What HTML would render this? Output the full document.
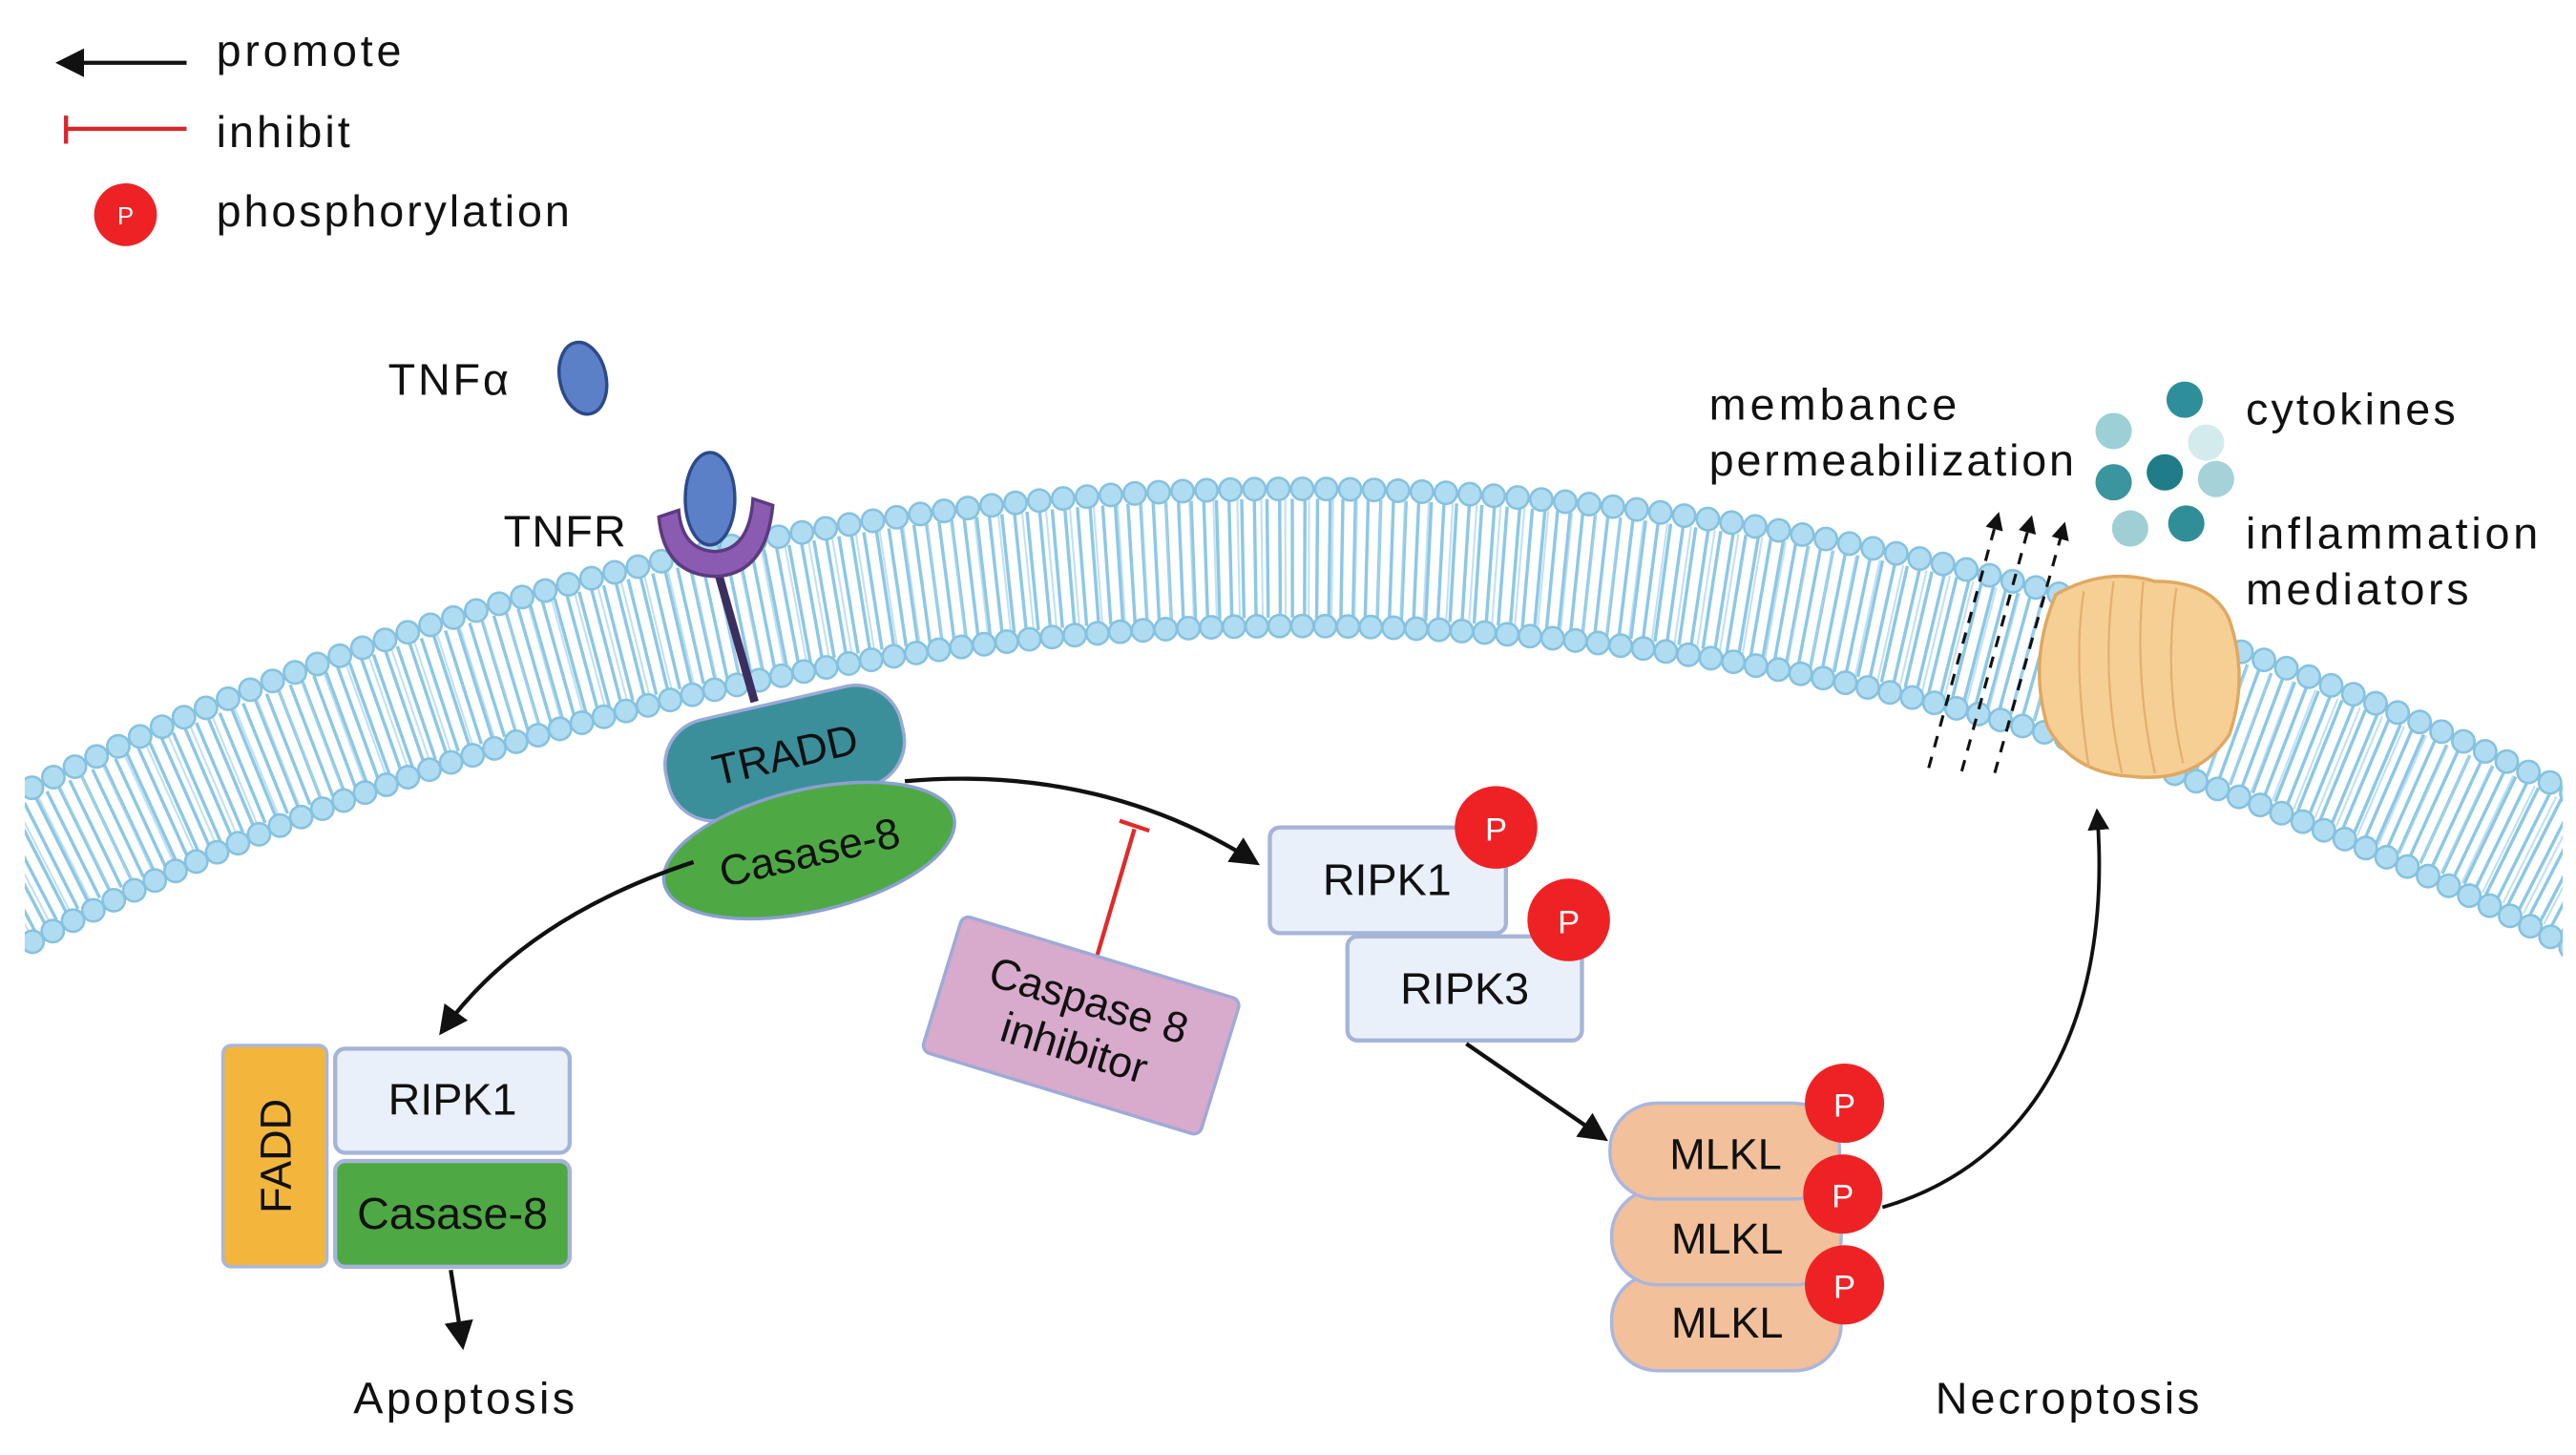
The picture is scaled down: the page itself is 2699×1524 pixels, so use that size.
<!DOCTYPE html>
<html><head><meta charset="utf-8"><style>
html,body{margin:0;padding:0;background:#fff;width:2699px;height:1524px;overflow:hidden}
svg{display:block}
text{font-family:"Liberation Sans",sans-serif;fill:#111}
</style></head><body>
<svg width="2699" height="1524" viewBox="0 0 1560 881" preserveAspectRatio="none" xmlns="http://www.w3.org/2000/svg">
<defs>
<clipPath id="mc"><rect x="15" y="0" width="1537" height="881"/></clipPath>
<marker id="ah" viewBox="0 0 10 10" refX="8" refY="5" markerWidth="7" markerHeight="7" orient="auto-start-reverse"><path d="M0,0 L10,5 L0,10 z" fill="#111"/></marker>
<marker id="ahs" viewBox="0 0 10 10" refX="8" refY="5" markerWidth="6" markerHeight="6" orient="auto"><path d="M0,0 L10,5 L0,10 z" fill="#111"/></marker>
</defs>
<rect width="1560" height="881" fill="#fff"/>

<!-- legend -->
<line x1="113" y1="38" x2="37" y2="38" stroke="#111" stroke-width="2.5" marker-end="url(#ah)"/>
<text x="131" y="40" font-size="27" textLength="112">promote</text>
<line x1="40" y1="78" x2="113" y2="78" stroke="#d9262b" stroke-width="2.5"/>
<line x1="40" y1="70" x2="40" y2="87" stroke="#d9262b" stroke-width="2.5"/>
<text x="131" y="89" font-size="27" textLength="81">inhibit</text>
<circle cx="76" cy="130" r="19" fill="#ee2224"/>
<text x="76" y="136" font-size="15" text-anchor="middle" style="fill:#fff">P</text>
<text x="131" y="137" font-size="27" textLength="214">phosphorylation</text>

<!-- membrane -->
<g clip-path="url(#mc)">
<path d="M-49,561.5 A1668,1668 0 0 1 1619,561.5" fill="none" stroke="#8cc8e6" stroke-width="72" stroke-dasharray="2 5.5"/>
<path d="M-49,561.5 A1668,1668 0 0 1 1619,561.5" fill="none" stroke="#a5d4ec" stroke-width="72" stroke-dasharray="1.2 13" opacity="0.7"/>
<path d="M-70,525.1 A1710,1710 0 0 1 1640,525.1" fill="none" stroke="#86c2e0" stroke-width="15" stroke-linecap="round" stroke-dasharray="0 14.5"/>
<path d="M-70,525.1 A1710,1710 0 0 1 1640,525.1" fill="none" stroke="#b0dcf1" stroke-width="12" stroke-linecap="round" stroke-dasharray="0 14.5"/>
<path d="M-28.5,597 A1627,1627 0 0 1 1598.5,597" fill="none" stroke="#86c2e0" stroke-width="15" stroke-linecap="round" stroke-dasharray="0 13.8"/>
<path d="M-28.5,597 A1627,1627 0 0 1 1598.5,597" fill="none" stroke="#b0dcf1" stroke-width="12" stroke-linecap="round" stroke-dasharray="0 13.8"/>
</g>

<!-- TNF -->
<text x="235" y="239" font-size="27" textLength="73">TNFα</text>
<ellipse cx="353" cy="229" rx="14" ry="22" transform="rotate(-12 353 229)" fill="#5b80c8" stroke="#2c4a8a" stroke-width="2"/>
<text x="305" y="331" font-size="27" textLength="74">TNFR</text>
<line x1="433" y1="340" x2="457" y2="425" stroke="#3a2f5e" stroke-width="5"/>
<path d="M399,313 Q402,348 433,349 Q464,348 468,306 L456,302 Q454,333 433,334 Q413,333 411,309 Z" fill="#8a5bb0" stroke="#5b3a80" stroke-width="2"/>
<ellipse cx="430" cy="302" rx="15" ry="28" fill="#5b80c8" stroke="#2c4a8a" stroke-width="2"/>

<!-- TRADD / Casase-8 -->
<g transform="rotate(-13 475 455)">
<rect x="402" y="425" width="146" height="62" rx="28" fill="#3b8f9b" stroke="#9aaad6" stroke-width="2"/>
<text x="475" y="466" font-size="26" text-anchor="middle">TRADD</text>
</g>
<g transform="rotate(-13 490 515)">
<ellipse cx="490" cy="515" rx="90" ry="37" fill="#4ea944" stroke="#8aa0d0" stroke-width="2"/>
<text x="490" y="525" font-size="26" text-anchor="middle">Casase-8</text>
</g>

<!-- arrows -->
<path d="M548,473 C640,465 710,490 760,522" fill="none" stroke="#111" stroke-width="2.5" marker-end="url(#ah)"/>
<path d="M420,522 C350,545 300,580 268,624" fill="none" stroke="#111" stroke-width="2.5" marker-end="url(#ah)"/>
<line x1="664" y1="580" x2="687" y2="502" stroke="#e02a2a" stroke-width="2.5"/>
<line x1="678" y1="497" x2="696" y2="503" stroke="#e02a2a" stroke-width="2.5"/>

<!-- Caspase 8 inhibitor -->
<g transform="rotate(17 655 620)">
<rect x="567" y="578" width="176" height="86" rx="5" fill="#d8aacb" stroke="#9eaad8" stroke-width="2"/>
<text x="655" y="614" font-size="26" text-anchor="middle">Caspase 8</text>
<text x="655" y="644" font-size="26" text-anchor="middle">inhibitor</text>
</g>

<!-- RIPK1 / RIPK3 -->
<rect x="769" y="501" width="143" height="64" rx="6" fill="#eaf0fa" stroke="#a6b4d8" stroke-width="2.5"/>
<text x="840" y="542" font-size="27" text-anchor="middle">RIPK1</text>
<circle cx="906" cy="501" r="25" fill="#ee2224"/>
<text x="906" y="509" font-size="20" text-anchor="middle" style="fill:#fff">P</text>
<rect x="816" y="567" width="142" height="63" rx="6" fill="#eaf0fa" stroke="#a6b4d8" stroke-width="2.5"/>
<text x="887" y="608" font-size="27" text-anchor="middle">RIPK3</text>
<circle cx="950" cy="557" r="25" fill="#ee2224"/>
<text x="950" y="565" font-size="20" text-anchor="middle" style="fill:#fff">P</text>
<line x1="888" y1="632" x2="971" y2="689" stroke="#111" stroke-width="2.5" marker-end="url(#ah)"/>

<!-- MLKL -->
<rect x="976" y="771" width="139" height="59" rx="28" fill="#f2c09a" stroke="#a9b6dd" stroke-width="2"/>
<text x="1046" y="810" font-size="26" text-anchor="middle">MLKL</text>
<rect x="976" y="720" width="139" height="58" rx="28" fill="#f2c09a" stroke="#a9b6dd" stroke-width="2"/>
<text x="1046" y="759" font-size="26" text-anchor="middle">MLKL</text>
<rect x="975" y="668" width="139" height="58" rx="28" fill="#f2c09a" stroke="#a9b6dd" stroke-width="2"/>
<text x="1045" y="708" font-size="26" text-anchor="middle">MLKL</text>
<circle cx="1117" cy="668" r="24" fill="#ee2224"/>
<text x="1117" y="676" font-size="20" text-anchor="middle" style="fill:#fff">P</text>
<circle cx="1116" cy="723" r="24" fill="#ee2224"/>
<text x="1116" y="731" font-size="20" text-anchor="middle" style="fill:#fff">P</text>
<circle cx="1117" cy="778" r="24" fill="#ee2224"/>
<text x="1117" y="786" font-size="20" text-anchor="middle" style="fill:#fff">P</text>
<path d="M1140,731 C1230,705 1280,620 1270,492" fill="none" stroke="#111" stroke-width="2.2" marker-end="url(#ahs)"/>
<text x="1252" y="856" font-size="27" text-anchor="middle" textLength="160">Necroptosis</text>

<!-- apoptosis complex -->
<rect x="135" y="633" width="63" height="134" rx="5" fill="#f2b63c" stroke="#a9b6dd" stroke-width="2"/>
<text transform="translate(176 700) rotate(-90)" font-size="26" text-anchor="middle">FADD</text>
<rect x="203" y="635" width="142" height="63" rx="6" fill="#eaf0fa" stroke="#a6b4d8" stroke-width="2.5"/>
<text x="274" y="675" font-size="27" text-anchor="middle">RIPK1</text>
<rect x="203" y="703" width="142" height="64" rx="6" fill="#4ea844" stroke="#a6b4d8" stroke-width="2.5"/>
<text x="274" y="744" font-size="27" text-anchor="middle">Casase-8</text>
<line x1="273" y1="769" x2="280" y2="814" stroke="#111" stroke-width="2.5" marker-end="url(#ah)"/>
<text x="281" y="856" font-size="27" text-anchor="middle" textLength="134">Apoptosis</text>

<!-- pore & dashed arrows -->
<g stroke="#111" stroke-width="1.8" stroke-dasharray="7 6" fill="none">
<line x1="1168" y1="465" x2="1210" y2="312" marker-end="url(#ahs)"/>
<line x1="1188" y1="467" x2="1230" y2="314" marker-end="url(#ahs)"/>
<line x1="1208" y1="468" x2="1250" y2="318" marker-end="url(#ahs)"/>
</g>
<path d="M1245,360 Q1275,343 1305,352 Q1340,352 1350,375 Q1362,410 1350,445 Q1330,475 1290,470 Q1255,468 1240,440 Q1228,400 1245,360 Z" fill="#f6cf95" stroke="#e0a860" stroke-width="2"/>
<g stroke="#e3b070" stroke-width="1.3" fill="none">
<path d="M1262,358 Q1255,400 1265,465"/><path d="M1280,352 Q1272,410 1285,468"/><path d="M1298,352 Q1292,410 1305,468"/><path d="M1318,356 Q1310,410 1322,462"/>
</g>

<!-- labels right -->
<text x="1035" y="254" font-size="27" textLength="150">membance</text>
<text x="1035" y="288" font-size="27" textLength="221">permeabilization</text>
<text x="1360" y="257" font-size="27" textLength="127">cytokines</text>
<text x="1360" y="332" font-size="27" textLength="177">inflammation</text>
<text x="1360" y="366" font-size="27" textLength="135">mediators</text>
<circle cx="1323" cy="242" r="11" fill="#2e8f9a"/>
<circle cx="1280" cy="261" r="11" fill="#9ccfd6"/>
<circle cx="1336" cy="268" r="11" fill="#d4ebee"/>
<circle cx="1280" cy="292" r="11" fill="#3a959f"/>
<circle cx="1311" cy="286" r="11" fill="#1f7c88"/>
<circle cx="1342" cy="290" r="11" fill="#a5d2d8"/>
<circle cx="1290" cy="320" r="11" fill="#a0ced5"/>
<circle cx="1324" cy="317" r="11" fill="#2f8e98"/>
</svg>
</body></html>
